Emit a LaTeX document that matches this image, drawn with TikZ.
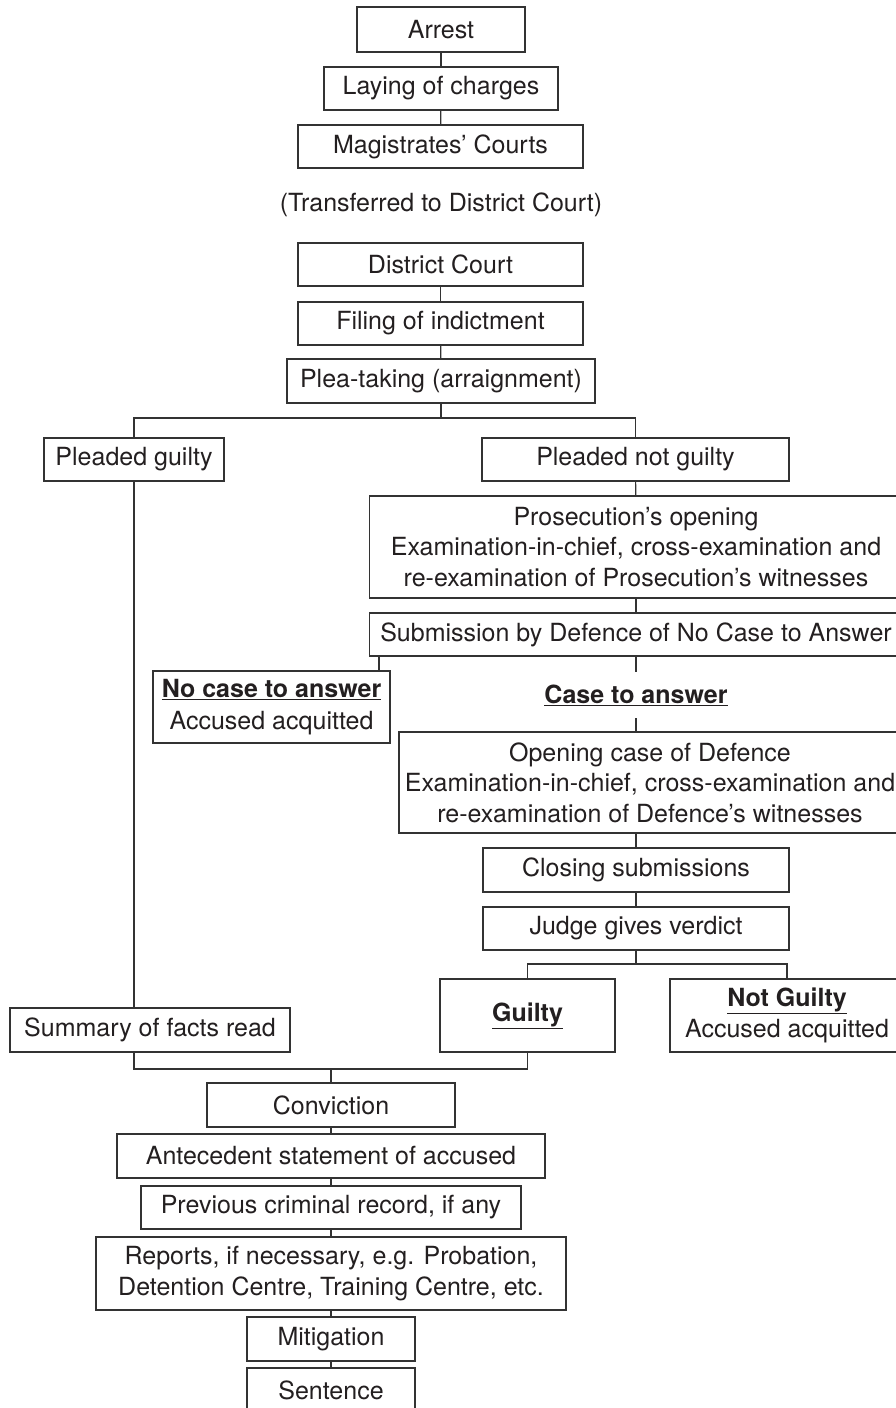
\documentclass[tikz,border=0pt]{standalone}
\usepackage{fontspec}
\setmainfont{TeX Gyre Heros}
\definecolor{ln}{HTML}{333333}
\definecolor{tx}{HTML}{231F20}
\begin{document}
\begin{tikzpicture}[x=1pt,y=-1pt,
  every node/.style={text=tx, font=\fontsize{25}{30.5}\selectfont, align=center, inner sep=0pt},
  bx/.style={draw=ln, line width=1.2pt},
  conn/.style={draw=ln, line width=1.2pt}]
\useasboundingbox (0,0) rectangle (896,1408);
\clip (0,0) rectangle (896,1408);
\fill[white] (0,0) rectangle (896,1408);

\node[bx, minimum width=168, minimum height=45] (arrest) at (441,29.5) {Arrest};
\node[bx, minimum width=234, minimum height=43] (laying) at (441,88.5) {Laying of charges};
\node[bx, minimum width=285, minimum height=43] (mag) at (440.5,146.5) {Magistrates’ Courts};
\node (trans) at (441,205) {(Transferred to District Court)};
\node[bx, minimum width=285, minimum height=43] (dist) at (440.5,264.5) {District Court};
\node[bx, minimum width=285, minimum height=43] (filing) at (440.5,323.5) {Filing of indictment};
\node[bx, minimum width=308, minimum height=44] (plea) at (441,381) {Plea-taking (arraignment)};

\node[bx, minimum width=180, minimum height=43] (pg) at (134,459.5) {Pleaded guilty};
\node[bx, minimum width=307, minimum height=43] (png) at (635.5,459.5) {Pleaded not guilty};
\node[bx, minimum width=533, minimum height=102] (pros) at (636,547) {Prosecution’s opening\\Examination-in-chief, cross-examination and\\re-examination of Prosecution’s witnesses};
\node[bx, minimum width=533, minimum height=43] (sub) at (636,634.5) {Submission by Defence of No Case to Answer};
\node[bx, minimum width=237, minimum height=72] (nocase) at (271.5,707) {\underline{\textbf{No case to answer}}\\[1pt]Accused acquitted};
\node[minimum height=46] (cta) at (636,695) {\underline{\textbf{Case to answer}}};
\node[bx, minimum width=502, minimum height=101] (open) at (650,782.5) {Opening case of Defence\\Examination-in-chief, cross-examination and\\re-examination of Defence’s witnesses};
\node[bx, minimum width=306, minimum height=44] (closing) at (636,870) {Closing submissions};
\node[bx, minimum width=306, minimum height=43] (judge) at (636,928.5) {Judge gives verdict};
\node[bx, minimum width=175, minimum height=73] (guilty) at (527.5,1015.5) {\underline{\textbf{Guilty}}};
\node[bx, minimum width=234, minimum height=73] (notg) at (787,1015.5) {\underline{\textbf{Not Guilty}}\\[1pt]Accused acquitted};
\node[bx, minimum width=280, minimum height=44] (summary) at (150,1030) {Summary of facts read};

\node[bx, minimum width=248, minimum height=44] (conv) at (331,1105) {Conviction};
\node[bx, minimum width=428, minimum height=44] (ante) at (331,1156) {Antecedent statement of accused};
\node[bx, minimum width=380, minimum height=43] (prev) at (331,1207.5) {Previous criminal record, if any};
\node[bx, minimum width=470, minimum height=73] (rep) at (331,1273.5) {Reports, if necessary, e.g. Probation,\\Detention Centre, Training Centre, etc.};
\node[bx, minimum width=168, minimum height=44] (mit) at (331,1339) {Mitigation};
\node[bx, minimum width=168, minimum height=44] (sent) at (331,1390) {Sentence};

\coordinate (j1) at (441,418);
\coordinate (j2) at (636,964);
\coordinate (j3) at (331,1069);

\draw[conn] (arrest) -- (laying);
\draw[conn] (laying) -- (mag);
\draw[conn] (dist) -- (filing);
\draw[conn] (filing) -- (plea);
\draw[conn] (plea) -- (j1);
\draw[conn] (pg.north) |- (j1) -| (png.north);
\draw[conn] (png) -- (pros);
\draw[conn] (pros) -- (sub);
\draw[conn] (sub.south -| 379,0) -- (nocase.north -| 379,0);
\draw[conn] (sub.south) -- (cta.north);
\draw[conn] (cta.south) -- (open.north -| cta);
\draw[conn] (open.south -| closing) -- (closing.north);
\draw[conn] (closing) -- (judge);
\draw[conn] (judge) -- (j2);
\draw[conn] (guilty.north) |- (j2) -| (notg.north);
\draw[conn] (pg.south) -- (pg.south |- summary.north);
\draw[conn] (summary.south -| pg) |- (j3) -| (guilty.south);
\draw[conn] (j3) -- (conv);
\draw[conn] (conv) -- (ante);
\draw[conn] (ante) -- (prev);
\draw[conn] (prev) -- (rep);
\draw[conn] (rep) -- (mit);
\draw[conn] (mit) -- (sent);
\end{tikzpicture}
\end{document}
